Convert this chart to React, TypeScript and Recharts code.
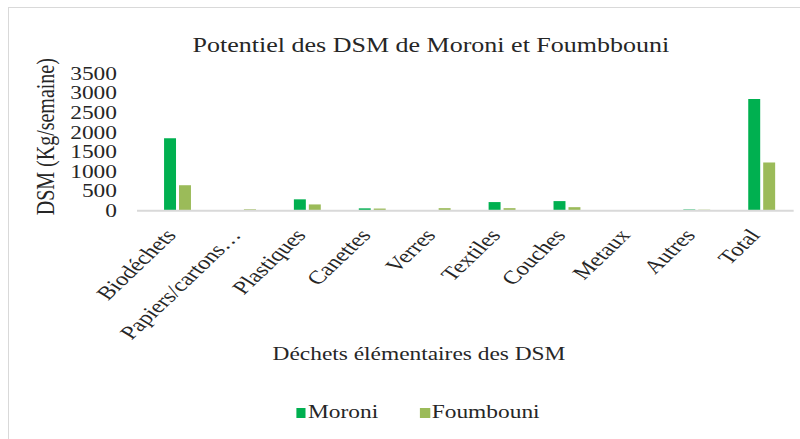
import React from 'react'
import { BarChart, Bar, XAxis, YAxis } from 'recharts'

const categories = ['Biodéchets', 'Papiers/cartons…', 'Plastiques', 'Canettes', 'Verres', 'Textiles', 'Couches', 'Metaux', 'Autres', 'Total']
const moroni = [1850, 0, 290, 60, 0, 220, 245, 0, 30, 2850]
const foumbouni = [650, 35, 160, 55, 65, 65, 90, 0, 25, 1230]
const yTicks = [0, 500, 1000, 1500, 2000, 2500, 3000, 3500]

const series = [
  { key: 'moroni', name: 'Moroni', color: '#00B050' },
  { key: 'foumbouni', name: 'Foumbouni', color: '#9BBB59' },
]

const data = categories.map((name, i) => ({ name, moroni: moroni[i], foumbouni: foumbouni[i] }))

// the reference is stretched horizontally, so the whole chart is drawn narrow and scaled
const SX = 1.3
const FONT = 'Liberation Serif'
const INK = '#262626'

const XTick = ({ x, y, payload }: any) => (
  <g transform={`translate(${x},${y + 17})`}>
    <text x={0} y={0} textAnchor="end" transform="rotate(-51)" fontFamily={FONT} fontSize={19} fill={INK}>
      {payload.value}
    </text>
  </g>
)

export default function App() {
  return (
    <div style={{ position: 'absolute', left: 0, top: 0, width: 800, height: 439, overflow: 'hidden', background: '#fff' }}>
      <div style={{ position: 'absolute', left: 8, top: 7, width: 900, height: 500, border: '1px solid #d9d9d9' }} />
      <div style={{ position: 'absolute', left: 0, top: 0, width: 800 / SX, height: 439, transform: `scaleX(${SX})`, transformOrigin: '0 0' }}>
        <div style={{ position: 'absolute', left: 0, width: 663, top: 35, textAlign: 'center', fontFamily: FONT, fontSize: 20, lineHeight: '20px', color: INK, whiteSpace: 'nowrap' }}>
          Potentiel des DSM de Moroni et Foumbbouni
        </div>
        <BarChart
          width={615}
          height={439}
          data={data}
          margin={{ top: 73.5, right: 4.5, bottom: 0, left: 0 }}
          barSize={9.2}
          barGap={2.3}
        >
          <XAxis
            dataKey="name"
            interval={0}
            height={228.3}
            padding={{ left: 5.8, right: 0 }}
            tickLine={false}
            axisLine={{ stroke: '#d9d9d9', strokeWidth: 2 }}
            tick={<XTick />}
            label={{
              content: () => (
                <text x={322.3} y={360} textAnchor="middle" fontFamily={FONT} fontSize={18} fill={INK}>
                  Déchets élémentaires des DSM
                </text>
              ),
            }}
          />
          <YAxis
            width={105.4}
            domain={[0, 3500]}
            ticks={yTicks}
            interval={0}
            axisLine={false}
            tickLine={false}
            tickMargin={9.4}
            tick={{ fontFamily: FONT, fontSize: 18, fill: INK }}
            label={{
              content: () => (
                <text
                  x={34.6}
                  y={136.7}
                  transform="rotate(-90 34.6 136.7)"
                  textAnchor="middle"
                  dominantBaseline="central"
                  fontFamily={FONT}
                  fontSize={20}
                  fill={INK}
                >
                  DSM (Kg/semaine)
                </text>
              ),
            }}
          />
          {series.map((s) => (
            <Bar key={s.key} dataKey={s.key} name={s.name} fill={s.color} isAnimationActive={false} />
          ))}
        </BarChart>
        <div style={{ position: 'absolute', left: 227.7, top: 403, display: 'flex', gap: 32, fontFamily: FONT, fontSize: 18, lineHeight: '18px', color: INK }}>
          {series.map((s) => (
            <div key={s.key} style={{ display: 'flex', alignItems: 'flex-end', gap: 1.5 }}>
              <span style={{ display: 'inline-block', width: 7.7, height: 10, background: s.color, marginBottom: 3 }} />
              <span>{s.name}</span>
            </div>
          ))}
        </div>
      </div>
    </div>
  )
}
